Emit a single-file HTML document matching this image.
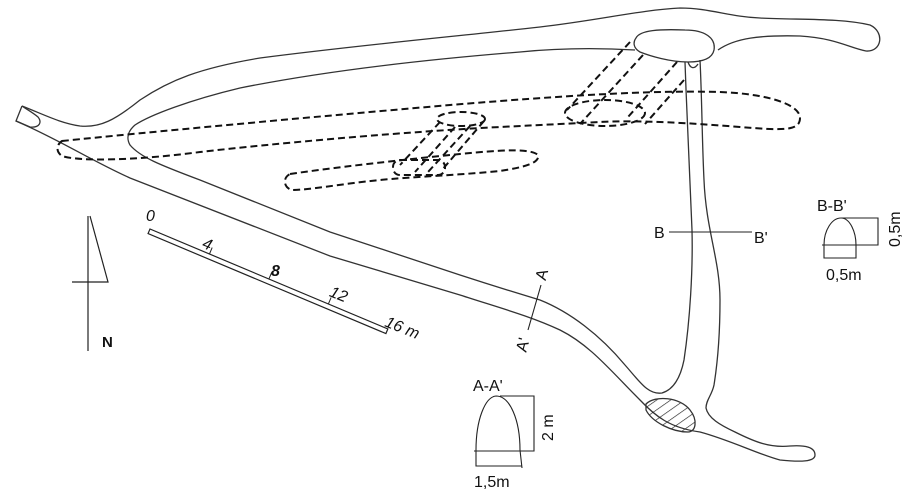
<!DOCTYPE html>
<html><head><meta charset="utf-8"><style>
html,body{margin:0;padding:0;background:#fff;width:912px;height:497px;overflow:hidden}
svg{display:block}
text{font-family:"Liberation Sans",sans-serif;fill:#111}
</style></head><body>
<svg width="912" height="497" viewBox="0 0 912 497" xmlns="http://www.w3.org/2000/svg">
<defs>
<pattern id="h" width="8" height="8" patternUnits="userSpaceOnUse" patternTransform="rotate(-35)">
<line x1="0" y1="0" x2="8" y2="0" stroke="#222" stroke-width="1.3"/></pattern>
</defs>
<g fill="none" stroke="#333" stroke-width="1.3">
<path d="M22,106 L16,121 L30,127 C40,128 42,122 38,117 C32,112 26,109 22,106"/>
<path d="M22,106 C45,115 60,123 80,126 C100,128 115,120 140,100 C170,80 200,68 260,58 C360,45 450,37 540,27 C600,20 640,10 680,8 C710,8 730,17 760,18 C800,20 840,18 870,25 C885,32 882,52 866,51 C850,48 835,38 800,36 C760,35 735,38 718,50"/>
<path d="M636,38 C640,30 660,29 685,30 C705,30 716,38 714,50 C712,60 700,62 688,62 C670,62 650,56 640,52 C633,48 633,42 636,38Z"/>
<path d="M635,50 C600,48 560,48 520,52 C420,60 320,72 240,88 C190,100 150,115 135,125 C128,131 126,138 130,145 C140,157 160,165 200,180 L330,232 L460,275 C500,288 520,294 540,300 C570,312 600,335 625,365 C640,382 648,395 662,393 C672,390 680,380 684,360 C690,320 693,270 692,230 C690,180 687,120 685,62"/>
<path d="M16,121 C60,140 90,160 130,178 L330,256 L460,295 C500,308 530,316 560,330 C590,345 610,370 640,400 C655,416 670,428 700,432 C730,440 760,455 780,460 C800,462 815,462 815,455 C815,447 805,445 790,446 C770,448 755,442 735,432 C720,425 708,418 706,408 C706,400 712,395 714,385 C718,360 720,330 720,300 C720,260 706,230 704,180 C702,140 702,100 700,60"/>
<path d="M688,62 C690,68 694,70 698,64"/>
<path d="M646,404 C655,395 680,397 690,410 C698,420 696,432 688,432 C672,432 652,422 646,410Z" fill="url(#h)"/>
</g>
<g fill="none" stroke="#111" stroke-width="2" stroke-dasharray="7,4">
<path d="M62,141 C150,132 300,118 450,105 C560,96 650,90 720,92 C770,94 800,105 800,118 C800,132 780,130 740,127 C690,123 640,120 600,122 C560,124 520,126 480,128 C380,134 280,143 200,152 C140,160 80,162 62,156 C56,152 56,145 62,141Z"/>
<path d="M290,174 C330,168 400,160 460,154 C500,150 530,148 538,155 C540,163 525,167 500,171 C460,175 410,177 380,180 C340,184 310,190 292,190 C284,188 282,178 290,174Z"/>
<ellipse cx="461" cy="119" rx="24" ry="7"/>
<rect x="393" y="160" width="52" height="15" rx="7"/>
<path d="M440,122 L400,165 M455,127 L415,172 M470,126 L428,172 M484,121 L442,170"/>
<ellipse cx="605" cy="113" rx="40" ry="13"/>
<path d="M630,42 L567,110 M643,55 L580,124 M677,62 L628,117 M684,80 L645,124"/>
</g>
<g transform="translate(150,229) rotate(22.8)">
<rect x="0" y="0" width="258" height="5" fill="none" stroke="#222" stroke-width="1.2"/>
<line x1="64.5" y1="0" x2="64.5" y2="-7" stroke="#222"/>
<line x1="129" y1="0" x2="129" y2="-7" stroke="#222"/>
<line x1="193.5" y1="0" x2="193.5" y2="-7" stroke="#222"/>
</g>
<g font-size="16" font-style="italic">
<text x="146" y="221">0</text>
<text x="203" y="250" transform="rotate(22 209 244)">4</text>
<text x="271" y="276" font-weight="bold">8</text>
<text x="330" y="300" transform="rotate(22 340 294)">12</text>
<text x="385" y="332" transform="rotate(22 400 326)">16 m</text>
</g>
<g stroke="#222" stroke-width="1.2" fill="none">
<line x1="88" y1="216" x2="88" y2="351"/>
<path d="M90,216 L108,282 L72,282"/>
</g>
<text x="102" y="347" font-size="15" font-weight="bold">N</text>
<line x1="541" y1="285" x2="528" y2="330" stroke="#222" stroke-width="1.1"/>
<text x="537" y="280" font-size="16" transform="rotate(-75 542 275)">A</text>
<text x="514" y="353" font-size="16" transform="rotate(-75 520 345)">A'</text>
<line x1="669" y1="232" x2="752" y2="232" stroke="#222" stroke-width="1.1"/>
<text x="654" y="238" font-size="16">B</text>
<text x="754" y="243" font-size="16">B'</text>
<text x="817" y="211" font-size="16">B-B'</text>
<g fill="none" stroke="#222" stroke-width="1.1">
<path d="M824,245 C824,230 832,218 841,218 C850,218 856,232 856,245"/>
<path d="M841,218 L878,218 L878,245 L822,245"/>
<path d="M824,245 L824,258 L856,258 L856,245"/>
</g>
<text x="900" y="247" font-size="16" transform="rotate(-90 900 247)">0,5m</text>
<text x="826" y="280" font-size="16">0,5m</text>
<text x="473" y="391" font-size="16">A-A'</text>
<g fill="none" stroke="#222" stroke-width="1.1">
<path d="M476,450 C476,420 485,397 496,396 C510,396 520,420 520,450 L522,468"/>
<path d="M500,396 L534,396 L534,451 L474,451"/>
<path d="M476,450 L476,466 L522,466"/>
</g>
<text x="553" y="441" font-size="16" transform="rotate(-90 553 441)">2 m</text>
<text x="474" y="487" font-size="16">1,5m</text>
</svg>
</body></html>
